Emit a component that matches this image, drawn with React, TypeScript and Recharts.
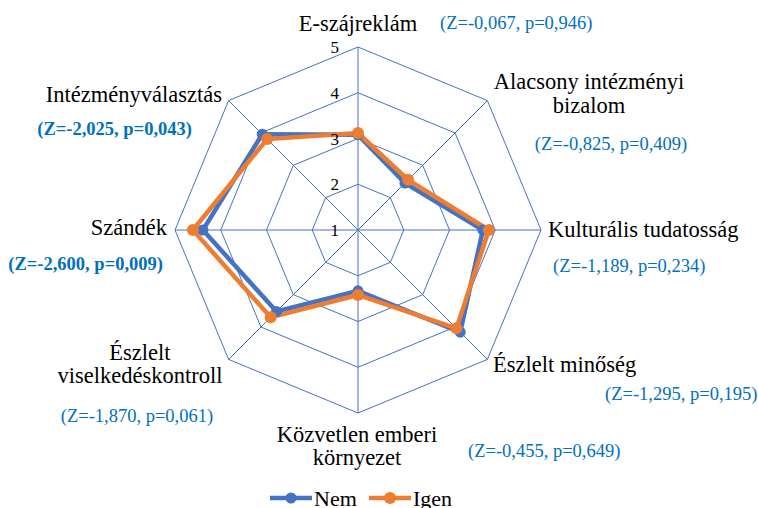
import { PolarAngleAxis, PolarGrid, PolarRadiusAxis, Radar, RadarChart } from 'recharts';

// dimensions read clockwise from the top
const categories = [
  'E-szájreklám',
  'Alacsony intézményi bizalom',
  'Kulturális tudatosság',
  'Észlelt minőség',
  'Közvetlen emberi környezet',
  'Észlelt viselkedéskontroll',
  'Szándék',
  'Intézményválasztás',
];
const labelLines = [
  ['E-szájreklám'],
  ['Alacsony intézményi', 'bizalom'],
  ['Kulturális tudatosság'],
  ['Észlelt minőség'],
  ['Közvetlen emberi', 'környezet'],
  ['Észlelt', 'viselkedéskontroll'],
  ['Szándék'],
  ['Intézményválasztás'],
];
const nemValues = [3.08, 2.45, 3.73, 4.16, 2.33, 3.52, 4.39, 3.96];
const igenValues = [3.12, 2.55, 3.86, 4.04, 2.42, 3.7, 4.61, 3.81];
const zStats = [
  '(Z=-0,067, p=0,946)',
  '(Z=-0,825, p=0,409)',
  '(Z=-1,189, p=0,234)',
  '(Z=-1,295, p=0,195)',
  '(Z=-0,455, p=0,649)',
  '(Z=-1,870, p=0,061)',
  '(Z=-2,600, p=0,009)',
  '(Z=-2,025, p=0,043)',
];
const significant = [false, false, false, false, false, false, true, true];
const radiusTicks = [1, 2, 3, 4, 5];

const rows = categories.map((name, i) => ({ name, nem: nemValues[i], igen: igenValues[i] }));

const BLUE = '#4472C4';
const ORANGE = '#ED7D31';
const ZBLUE = '#0070C0';
const FONT = 'Liberation Serif';

// label placement relative to the angle-axis tick point
const labelLayout = [
  { anchor: 'middle', dx: 0, dy: [-8], zAnchor: 'start', zdx: 82, zdy: -10 },
  { anchor: 'middle', dx: 96, dy: [-6, 18], zAnchor: 'middle', zdx: 118, zdy: 55 },
  { anchor: 'start', dx: -1, dy: [7], zAnchor: 'start', zdx: 4, zdy: 42 },
  { anchor: 'start', dx: 0, dy: [7], zAnchor: 'start', zdx: 112, zdy: 35 },
  { anchor: 'middle', dx: -1, dy: [21, 44], zAnchor: 'start', zdx: 110, zdy: 36 },
  { anchor: 'middle', dx: -83, dy: [-5, 18], zAnchor: 'middle', zdx: -86, zdy: 57 },
  { anchor: 'end', dx: 0, dy: [5], zAnchor: 'end', zdx: -4, zdy: 40 },
  { anchor: 'end', dx: -1, dy: [7], zAnchor: 'end', zdx: -31, zdy: 40 },
];

function AngleTick(props: any) {
  const { x, y } = props;
  const i = props.index ?? props.payload?.index ?? 0;
  const lay = labelLayout[i];
  return (
    <g>
      {labelLines[i].map((line, k) => (
        <text key={k} x={x + lay.dx} y={y + lay.dy[k]} textAnchor={lay.anchor}
          style={{ fontFamily: FONT, fontSize: 22.5 }} fill="#000">
          {line}
        </text>
      ))}
      <text x={x + lay.zdx} y={y + lay.zdy} textAnchor={lay.zAnchor}
        style={{ fontFamily: FONT, fontSize: 18.5, fontWeight: significant[i] ? 'bold' : 'normal' }}
        fill={ZBLUE}>
        {zStats[i]}
      </text>
    </g>
  );
}

function RadiusTick(props: any) {
  const { x, y, payload } = props;
  return (
    <text x={x - 19} y={y + 6} textAnchor="end" style={{ fontFamily: FONT, fontSize: 17 }} fill="#000">
      {payload.value}
    </text>
  );
}

const makeDot = (color: string, r: number) => (props: any) => (
  <circle key={props.key ?? `${props.cx}-${props.cy}`} cx={props.cx} cy={props.cy} r={r} fill={color} stroke="none" />
);

export default function App() {
  return (
    <div style={{ position: 'absolute', left: 0, top: 0, width: 758, height: 508, background: '#fff', fontFamily: FONT }}>
      <RadarChart width={758} height={508} data={rows} cx={358} cy={230} outerRadius={183}
        margin={{ top: 0, right: 0, bottom: 0, left: 0 }}>
        <PolarGrid gridType="polygon" stroke={BLUE} strokeWidth={1} />
        <PolarAngleAxis dataKey="name" tick={AngleTick} tickLine={false} axisLine={false} />
        <PolarRadiusAxis angle={90} domain={[1, 5]} ticks={radiusTicks} tickCount={5}
          axisLine={false} tick={RadiusTick} type="number" />
        <Radar name="Nem" dataKey="nem" stroke={BLUE} strokeWidth={4.5} fill="none" fillOpacity={0}
          dot={makeDot(BLUE, 5.5)} isAnimationActive={false} />
        <Radar name="Igen" dataKey="igen" stroke={ORANGE} strokeWidth={4.5} fill="none" fillOpacity={0}
          dot={makeDot(ORANGE, 6)} isAnimationActive={false} />
      </RadarChart>
      <svg width={758} height={508} style={{ position: 'absolute', left: 0, top: 0, pointerEvents: 'none' }}>
        <line x1={270} y1={498} x2={312} y2={498} stroke={BLUE} strokeWidth={4.5} />
        <circle cx={291} cy={498} r={5.5} fill={BLUE} />
        <text x={314} y={506} style={{ fontFamily: FONT, fontSize: 22 }} fill="#000">Nem</text>
        <line x1={369} y1={498} x2={411} y2={498} stroke={ORANGE} strokeWidth={4.5} />
        <circle cx={390} cy={498} r={6} fill={ORANGE} />
        <text x={413} y={506} style={{ fontFamily: FONT, fontSize: 22 }} fill="#000">Igen</text>
      </svg>
    </div>
  );
}
